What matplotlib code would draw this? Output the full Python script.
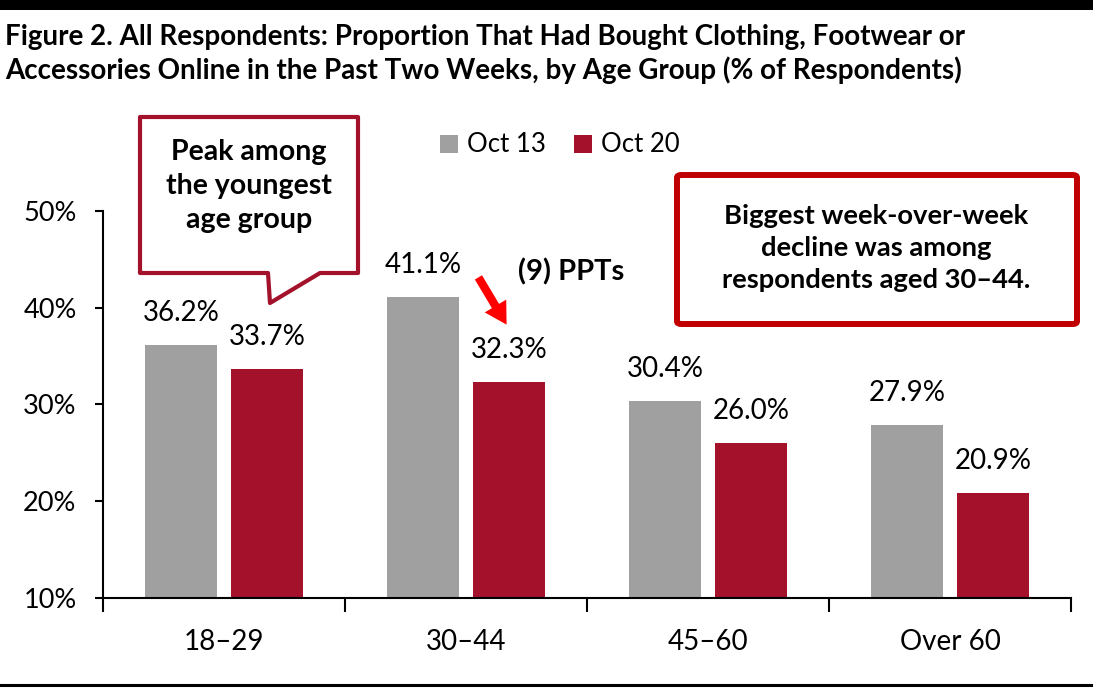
"""
plot.py
-------
Online clothing/footwear/accessories purchases in the past two weeks, by age
group, for the Oct 13 and Oct 20 survey waves. Saves out.png.
"""

import matplotlib
matplotlib.use("Agg")  # headless backend
import matplotlib.pyplot as plt
from matplotlib.patches import Polygon, FancyBboxPatch, FancyArrowPatch, Rectangle
from matplotlib.lines import Line2D

AGE_GROUPS = ["18\u201329", "30\u201344", "45\u201360", "Over 60"]
OCT_13 = [36.2, 41.1, 30.4, 27.9]
OCT_20 = [33.7, 32.3, 26.0, 20.9]
SERIES_NAMES = ["Oct 13", "Oct 20"]
Y_TICKS = [10, 20, 30, 40, 50]

TITLE = ("Figure 2. All Respondents: Proportion That Had Bought Clothing, Footwear or\n"
         "Accessories Online in the Past Two Weeks, by Age Group (% of Respondents)")
BUBBLE_TEXT = "Peak among\nthe youngest\nage group"
BOX_TEXT = "Biggest week-over-week\ndecline was among\nrespondents aged 30\u201344."
ARROW_TEXT = "(9) PPTs"

GRAY = "#A0A0A0"
RED = "#A3112A"
BOX_RED = "#C00000"

W, H = 1093, 690
plt.rcParams["font.family"] = ["Lato", "DejaVu Sans"]


def fx(px):
    """pixel x -> figure fraction"""
    return px / W


def fy(py):
    """pixel y (from top) -> figure fraction"""
    return 1 - py / H


fig = plt.figure(figsize=(W / 100, H / 100), dpi=100)
ax = fig.add_axes([fx(103), fy(598), fx(1071) - fx(103), fy(211) - fy(598)])

x = range(len(AGE_GROUPS))
width = 0.30
off = 0.177
bars1 = ax.bar([i - off for i in x], OCT_13, width, color=GRAY, label=SERIES_NAMES[0])
bars2 = ax.bar([i + off for i in x], OCT_20, width, color=RED, label=SERIES_NAMES[1])

for bars, vals in ((bars1, OCT_13), (bars2, OCT_20)):
    for b, v in zip(bars, vals):
        ax.annotate(f"{v:.1f}%", (b.get_x() + b.get_width() / 2, v),
                    xytext=(0, 23), textcoords="offset points",
                    ha="center", va="center", fontsize=20)

ax.set_xlim(-0.5, len(AGE_GROUPS) - 0.5)
ax.set_ylim(Y_TICKS[0], Y_TICKS[-1])
ax.set_yticks(Y_TICKS)
ax.set_yticklabels([f"{t}%" for t in Y_TICKS])

# group separators as major ticks, labels sit on minor ticks
ax.set_xticks([i - 0.5 for i in range(len(AGE_GROUPS) + 1)])
ax.set_xticklabels([])
ax.set_xticks(list(x), minor=True)
ax.set_xticklabels(AGE_GROUPS, minor=True, fontsize=20)
ax.tick_params(axis="x", which="major", length=10, width=1.5, direction="out")
ax.tick_params(axis="x", which="minor", length=0, pad=22)
ax.tick_params(axis="y", length=6, width=1.5, labelsize=19.5, pad=13)

for side in ("top", "right"):
    ax.spines[side].set_visible(False)
for side in ("left", "bottom"):
    ax.spines[side].set_linewidth(1.5)

ax.legend(ncol=2, frameon=False, fontsize=18.5, loc="center",
          bbox_to_anchor=(fx(560), fy(145)), bbox_transform=fig.transFigure,
          handlelength=0.7, handleheight=0.7, handletextpad=0.35, columnspacing=1.1)

# title and black rules
fig.text(fx(5), fy(54), TITLE, ha="left", va="center", fontsize=20,
         fontweight="bold", linespacing=1.32)
fig.add_artist(Rectangle((0, fy(10)), 1, fy(0) - fy(10), transform=fig.transFigure,
                         color="black", lw=0))
fig.add_artist(Line2D([0, 1], [fy(685), fy(685)], transform=fig.transFigure,
                      color="black", lw=2.2))

# speech bubble
bubble = [(140, 117), (358, 117), (358, 273), (320, 273), (270, 303),
          (268, 273), (140, 273)]
fig.add_artist(Polygon([(fx(a), fy(b)) for a, b in bubble], closed=True,
                       transform=fig.transFigure, facecolor="white",
                       edgecolor=RED, lw=3, joinstyle="round"))
fig.text(fx(249), fy(186), BUBBLE_TEXT, ha="center", va="center", fontsize=20.5,
         fontweight="bold", linespacing=1.36)

# right-hand note box
fig.add_artist(FancyBboxPatch((fx(677), fy(324)), fx(1077) - fx(677), fy(175) - fy(324),
                              boxstyle="round,pad=0,rounding_size=0.004",
                              transform=fig.transFigure, facecolor="white",
                              edgecolor=BOX_RED, lw=4.3))
fig.text(fx(876), fy(248), BOX_TEXT, ha="center", va="center", fontsize=19.7,
         fontweight="bold", linespacing=1.38)

# decline arrow
fig.add_artist(FancyArrowPatch((fx(477), fy(275)), (fx(508), fy(327)),
                               transform=fig.transFigure, color="#FF0000",
                               arrowstyle="simple,head_width=1.5,head_length=1.3,tail_width=0.5",
                               mutation_scale=12, lw=0))
fig.text(fx(518), fy(272), ARROW_TEXT, ha="left", va="center", fontsize=21,
         fontweight="bold")

fig.savefig("out.png", dpi=100)
